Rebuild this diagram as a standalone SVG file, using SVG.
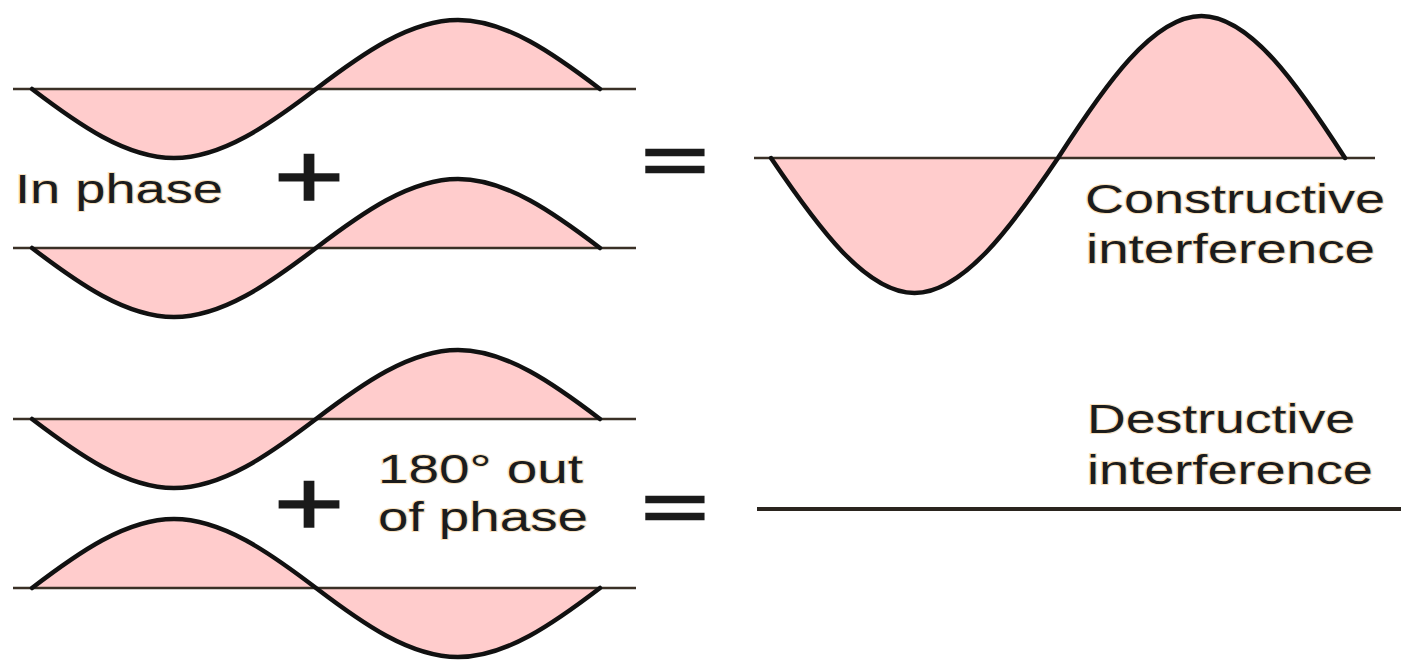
<svg xmlns="http://www.w3.org/2000/svg" xmlns:xlink="http://www.w3.org/1999/xlink" width="1401" height="662" viewBox="0 0 1401 662">
<style>
.fill{fill:#ffcccc;stroke:none}
.curve{fill:none;stroke:#111;stroke-width:4.5;stroke-linecap:round;stroke-linejoin:round}
.base{stroke:#3a3026;stroke-width:2.5;fill:none}
.flat{stroke:#2a241e;stroke-width:4;fill:none}
.lbl{font-family:"Liberation Sans",Arial,sans-serif;font-size:40px;fill:#1c1c1c;stroke:#f8e2c0;stroke-width:2;paint-order:stroke}
.sym{font-family:"Liberation Sans",Arial,sans-serif;fill:#1a1a1a;stroke:#1a1a1a;text-anchor:middle}
</style>
<defs>
<path id="w" d="M0,0 C46.3,35.3 93.9,69 142,69 C190.1,69 237.7,35.3 284,0 C330.3,-35.3 377.9,-69 426,-69 C474.1,-69 521.7,-35.3 568,0"/>
</defs>
<rect width="1401" height="662" fill="#fff"/>
<g id="wave1">
<use xlink:href="#w" class="fill" transform="translate(32,89)"/>
<line class="base" x1="13" y1="89" x2="636" y2="89"/>
<use xlink:href="#w" class="curve" transform="translate(32,89)"/>
</g>
<g id="wave2">
<use xlink:href="#w" class="fill" transform="translate(32,248)"/>
<line class="base" x1="13" y1="248" x2="636" y2="248"/>
<use xlink:href="#w" class="curve" transform="translate(32,248)"/>
</g>
<g id="wave3">
<use xlink:href="#w" class="fill" transform="translate(32,419)"/>
<line class="base" x1="13" y1="419" x2="636" y2="419"/>
<use xlink:href="#w" class="curve" transform="translate(32,419)"/>
</g>
<g id="wave4">
<use xlink:href="#w" class="fill" transform="translate(32,588) scale(1,-1)"/>
<line class="base" x1="13" y1="588" x2="636" y2="588"/>
<use xlink:href="#w" class="curve" transform="translate(32,588) scale(1,-1)"/>
</g>
<g id="constructive">
<path class="fill" d="M771,158 C817.8,227.2 865.9,293 914.5,293 C963.1,293 1011.2,227.2 1058,158 C1104.8,85.3 1152.9,16 1201.5,16 C1250.1,16 1298.2,85.3 1345,158"/>
<line class="base" x1="754" y1="158" x2="1375" y2="158"/>
<path class="curve" d="M771,158 C817.8,227.2 865.9,293 914.5,293 C963.1,293 1011.2,227.2 1058,158 C1104.8,85.3 1152.9,16 1201.5,16 C1250.1,16 1298.2,85.3 1345,158"/>
</g>
<g id="destructive">
<line class="flat" x1="757" y1="509" x2="1401" y2="509"/>
</g>
<g id="symbols">
<text class="sym" font-size="93" stroke-width="1.6" transform="translate(309,208) scale(1.3,1)">+</text>
<text class="sym" font-size="93" stroke-width="1.6" transform="translate(309,535) scale(1.3,1)">+</text>
<text class="sym" font-size="66" stroke-width="2.6" transform="translate(675,183) scale(1.71,1)">=</text>
<text class="sym" font-size="66" stroke-width="2.6" transform="translate(675,530) scale(1.71,1)">=</text>
</g>
<g id="labels">
<text class="lbl" x="15" y="203" textLength="208" lengthAdjust="spacingAndGlyphs" style="font-size:41px">In phase</text>
<text class="lbl" x="1085" y="213" textLength="300" lengthAdjust="spacingAndGlyphs">Constructive</text>
<text class="lbl" x="1086" y="263" textLength="289" lengthAdjust="spacingAndGlyphs">interference</text>
<text class="lbl" x="378" y="483" textLength="205" lengthAdjust="spacingAndGlyphs">180° out</text>
<text class="lbl" x="378" y="531" textLength="210" lengthAdjust="spacingAndGlyphs">of phase</text>
<text class="lbl" x="1087" y="433" textLength="268" lengthAdjust="spacingAndGlyphs">Destructive</text>
<text class="lbl" x="1087" y="484" textLength="286" lengthAdjust="spacingAndGlyphs">interference</text>
</g>
</svg>
